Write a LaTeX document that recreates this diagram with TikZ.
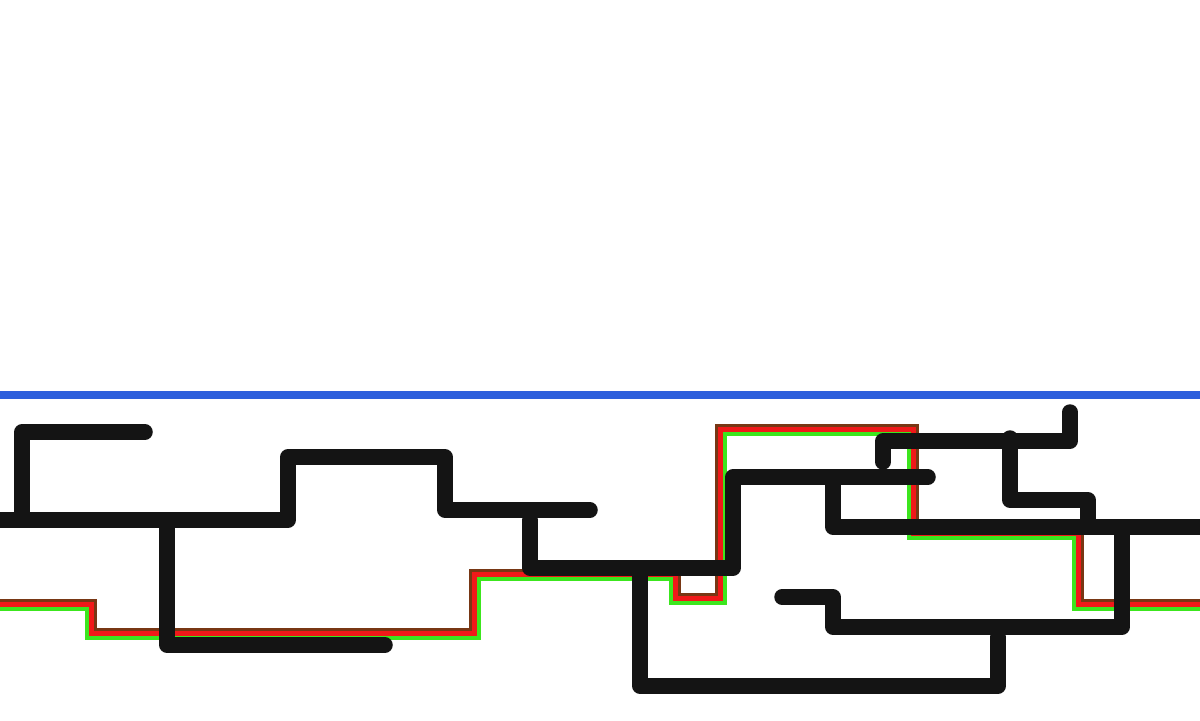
\documentclass[tikz,border=0pt]{standalone}
\usepackage{tikz}

\definecolor{pen}{RGB}{20,20,20}
\definecolor{wireblue}{RGB}{45,95,220}
\definecolor{wirered}{RGB}{240,25,25}
\definecolor{wiregreen}{RGB}{60,230,30}
\definecolor{wirebrown}{RGB}{120,55,20}

\begin{document}
\begin{tikzpicture}[x=0.01cm, y=-0.01cm,
    stroke/.style={draw=pen, line width=0.155cm, line cap=round, line join=round},
    wire/.style={line cap=round}]
    \useasboundingbox[fill=white] (0,0) rectangle (1200,720);

    % Blue line
    \draw [wireblue, line width=0.08cm] (0,395) -- (1200,395);

    % Coloured step lines (green, red, brown side by side)
    \foreach \d/\col/\w in {4.5/wiregreen/1.3pt, 0.5/wirered/1.6pt, -3.5/wirebrown/0.95pt} {
        \draw [wire, \col, line width=\w]
            (0,604+\d) -- (92-\d,604+\d) -- (92-\d,633+\d) -- (474+\d,633+\d)
            -- (474+\d,574+\d) -- (676-\d,574+\d) -- (676-\d,598+\d) -- (720+\d,598+\d)
            -- (720+\d,429+\d) -- (914-\d,429+\d) -- (914-\d,533+\d) -- (1079-\d,533+\d)
            -- (1079-\d,604+\d) -- (1200,604+\d);
    }

    % Black strokes, left part
    \draw [stroke] (145,432) -- (22,432) -- (22,520);
    \draw [stroke] (0,520) -- (288,520) -- (288,457) -- (445,457) -- (445,510) -- (590,510);
    \draw [stroke] (167,528) -- (167,645) -- (385,645);
    \draw [stroke] (530,520) -- (530,568) -- (733,568) -- (733,477) -- (928,477);
    \draw [stroke] (640,575) -- (640,686) -- (998,686) -- (998,637);

    % Black strokes, right part
    \draw [stroke] (782,597) -- (833,597) -- (833,627) -- (1122,627) -- (1122,534);
    \draw [stroke] (833,484) -- (833,527) -- (1200,527);
    \draw [stroke] (883,462) -- (883,441) -- (1070,441) -- (1070,412);
    \draw [stroke] (1010,438) -- (1010,500) -- (1088,500) -- (1088,520);
\end{tikzpicture}
\end{document}
